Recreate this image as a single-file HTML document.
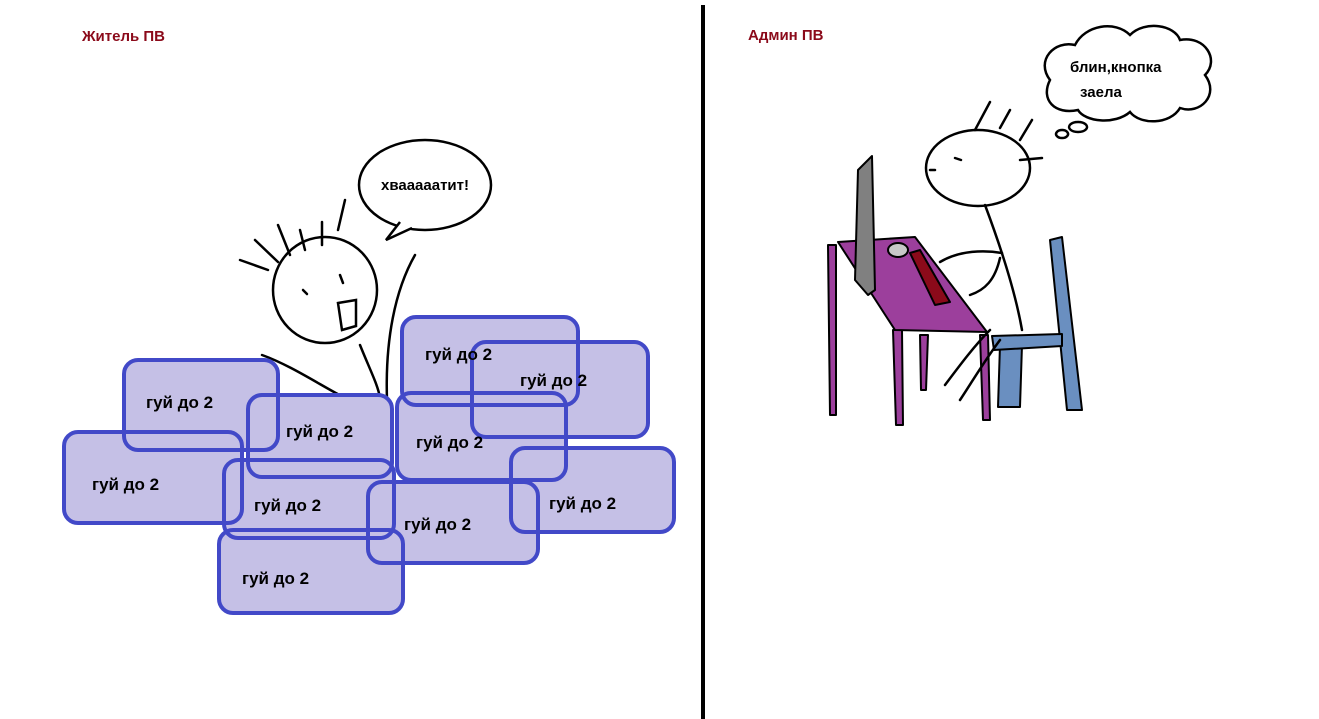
<!DOCTYPE html>
<html><head><meta charset="utf-8"><style>body{margin:0;background:#fff}svg{display:block}text{font-family:"Liberation Sans","DejaVu Sans",sans-serif;font-weight:bold}</style></head><body>
<svg width="1319" height="719" viewBox="0 0 1319 719" xmlns="http://www.w3.org/2000/svg">
<rect width="1319" height="719" fill="#fff"/>
<line x1="703" y1="5" x2="703" y2="719" stroke="#000" stroke-width="4"/>
<text x="82" y="41" font-size="15" fill="#8b0a1a">Житель ПВ</text>
<text x="748" y="40" font-size="15" fill="#8b0a1a">Админ ПВ</text>
<!-- left figure -->
<g fill="none" stroke="#000" stroke-width="2.5" stroke-linecap="round">
<ellipse cx="325" cy="290" rx="52" ry="53"/>
<path d="M240 260 L268 270 M255 240 L278 262 M278 225 L290 255 M300 230 L305 250 M322 222 L322 245 M345 200 L338 230"/>
<path d="M303 290 l4 4 M340 275 l3 8"/>
<path d="M338 303 L356 300 L356 326 L342 330 Z"/>
<path d="M262 355 C290 365 320 385 345 398"/>
<path d="M360 345 C370 370 378 385 380 398"/>
<path d="M415 255 C395 290 385 340 387 400"/>
<ellipse cx="425" cy="185" rx="66" ry="45"/>
</g>
<path d="M400 222 L386 240 L412 228" fill="#fff" stroke="#000" stroke-width="2.5"/>
<text x="425" y="190" font-size="15" text-anchor="middle">хвааааатит!</text>
<!-- boxes -->
<g fill="#c5c0e6">
<rect x="124" y="360" width="154" height="90" rx="14"/>
<rect x="248" y="395" width="144" height="82" rx="14"/>
<rect x="64" y="432" width="178" height="91" rx="14"/>
<rect x="224" y="460" width="170" height="78" rx="14"/>
<rect x="219" y="530" width="184" height="83" rx="14"/>
<rect x="402" y="317" width="176" height="88" rx="14"/>
<rect x="472" y="342" width="176" height="95" rx="14"/>
<rect x="397" y="393" width="169" height="87" rx="14"/>
<rect x="511" y="448" width="163" height="84" rx="14"/>
<rect x="368" y="482" width="170" height="81" rx="14"/>
</g>
<g fill="none" stroke="#4249c8" stroke-width="4">
<rect x="124" y="360" width="154" height="90" rx="14"/>
<rect x="248" y="395" width="144" height="82" rx="14"/>
<rect x="64" y="432" width="178" height="91" rx="14"/>
<rect x="224" y="460" width="170" height="78" rx="14"/>
<rect x="219" y="530" width="184" height="83" rx="14"/>
<rect x="402" y="317" width="176" height="88" rx="14"/>
<rect x="472" y="342" width="176" height="95" rx="14"/>
<rect x="397" y="393" width="169" height="87" rx="14"/>
<rect x="511" y="448" width="163" height="84" rx="14"/>
<rect x="368" y="482" width="170" height="81" rx="14"/>
</g>
<g font-size="17">
<text x="146" y="408">гуй до 2</text>
<text x="286" y="437">гуй до 2</text>
<text x="92" y="490">гуй до 2</text>
<text x="254" y="511">гуй до 2</text>
<text x="242" y="584">гуй до 2</text>
<text x="425" y="360">гуй до 2</text>
<text x="520" y="386">гуй до 2</text>
<text x="416" y="448">гуй до 2</text>
<text x="549" y="509">гуй до 2</text>
<text x="404" y="530">гуй до 2</text>
</g>
<!-- right figure -->
<g stroke="#000" stroke-width="2" stroke-linejoin="round">
<polygon points="1050,240 1062,237 1082,410 1067,410" fill="#6a8fc0"/>
<polygon points="1000,345 1022,345 1020,407 998,407" fill="#6a8fc0"/>
<polygon points="992,336 1062,334 1062,346 994,350" fill="#6a8fc0"/>
<polygon points="828,245 836,245 836,415 830,415" fill="#9c3f9c"/>
<polygon points="893,330 902,330 903,425 896,425" fill="#9c3f9c"/>
<polygon points="920,335 928,335 926,390 921,390" fill="#9c3f9c"/>
<polygon points="980,335 988,335 990,420 983,420" fill="#9c3f9c"/>
<polygon points="838,242 915,237 987,332 895,330" fill="#9c3f9c"/>
<polygon points="858,170 872,156 875,290 868,295 855,280" fill="#808080"/>
<ellipse cx="898" cy="250" rx="10" ry="7" fill="#c8c8c8"/>
<polygon points="910,253 920,250 950,302 935,305" fill="#8b0a1a"/>
</g>
<g fill="none" stroke="#000" stroke-width="2.5" stroke-linecap="round">
<ellipse cx="978" cy="168" rx="52" ry="38"/>
<path d="M955 158 l6 2 M930 170 l5 0 M1020 160 l22 -2"/>
<path d="M975 130 L990 102 M1000 128 L1010 110 M1020 140 L1032 120"/>
<path d="M985 205 C1000 245 1015 290 1022 330"/>
<path d="M940 262 C960 250 985 250 1002 253"/>
<path d="M1000 258 C995 280 985 290 970 295"/>
<path d="M990 330 C975 345 960 365 945 385 M1000 340 C985 360 970 385 960 400"/>
<path d="M1062 130 a6 4 0 1 0 0.1 0 M1078 122 a9 5 0 1 0 0.1 0"/>
<path d="M1050 80 C1035 60 1055 40 1075 45 C1085 25 1115 20 1130 35 C1145 20 1175 25 1180 40 C1205 35 1220 60 1205 75 C1220 95 1200 115 1180 108 C1170 125 1140 125 1130 112 C1115 125 1085 122 1078 110 C1055 115 1040 100 1050 80 Z"/>
</g>
<text x="1070" y="72" font-size="15">блин,кнопка</text>
<text x="1080" y="97" font-size="15">заела</text>
</svg>
</body></html>
